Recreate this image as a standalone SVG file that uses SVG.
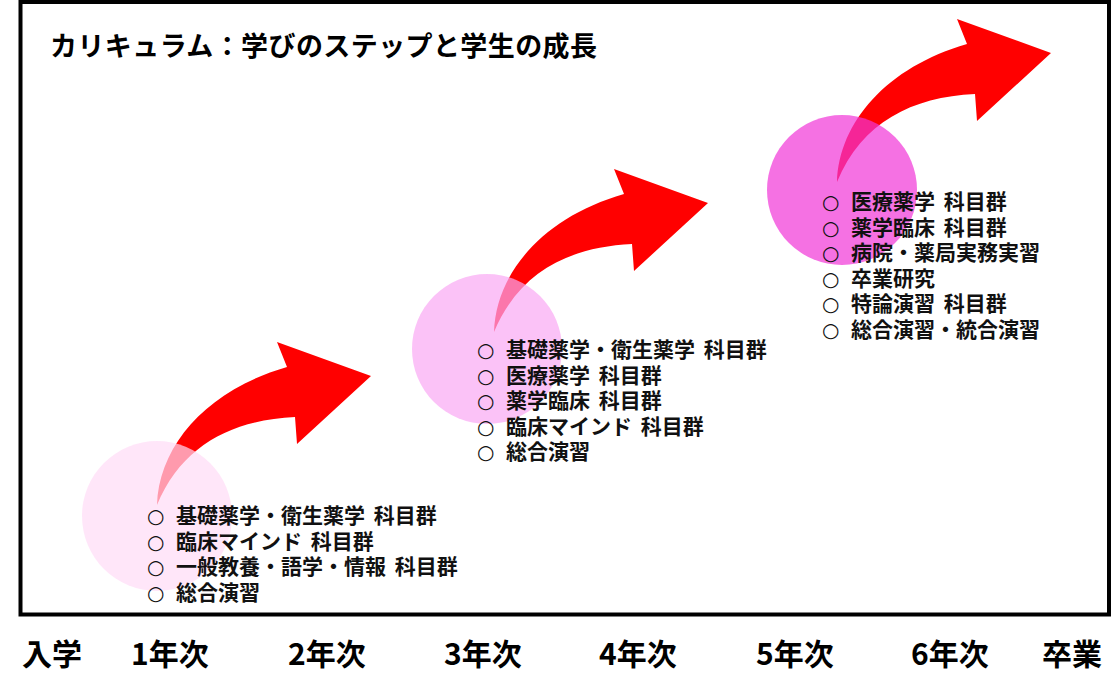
<svg xmlns="http://www.w3.org/2000/svg" xmlns:xlink="http://www.w3.org/1999/xlink" width="1120" height="692" viewBox="0 0 1120 692">
<style>
  .title { font-family: "Noto Sans CJK JP", "Noto Sans", sans-serif; font-weight: bold; font-size: 27px; fill: #000; }
  .item { font-family: "Liberation Sans", "Noto Sans CJK JP", sans-serif; font-weight: bold; font-size: 21px; fill: #111; word-spacing: 3px; }
  .mark { font-family: "DejaVu Sans", "Noto Sans CJK JP", sans-serif; font-weight: normal; font-size: 20px; }
  .year { font-family: "Noto Sans CJK JP", "Noto Sans", sans-serif; font-weight: bold; font-size: 30px; fill: #000; }
  .arrow { fill: #ff0000; }
</style>
<defs>
  <path id="curvedArrow" d="M0,0 C2,-60 50,-115 130,-138 L120,-163 L214,-129 L140,-61 L138,-88 C75,-85 25,-60 0,0 Z"/>
</defs>
<rect x="0" y="0" width="1120" height="692" fill="#ffffff"/>
<rect id="frame" x="20.5" y="2" width="1088.5" height="612.5" fill="#ffffff" stroke="#000" stroke-width="4"/>
<text id="title" class="title" x="50" y="56" textLength="547">カリキュラム：学びのステップと学生の成長</text>

<g id="connectors">
  <use xlink:href="#curvedArrow" class="arrow" transform="translate(157,505)"/>
  <use xlink:href="#curvedArrow" class="arrow" transform="translate(494,332)"/>
  <use xlink:href="#curvedArrow" class="arrow" transform="translate(837,182)"/>
</g>

<g id="stage1">
  <circle cx="157" cy="516" r="75" fill="rgb(255,220,246)" fill-opacity="0.7"/>
  <text class="item" y="523"><tspan class="mark" x="147">○</tspan><tspan x="176">基礎薬学・衛生薬学 科目群</tspan></text>
  <text class="item" y="548.5"><tspan class="mark" x="147">○</tspan><tspan x="176">臨床マインド 科目群</tspan></text>
  <text class="item" y="574"><tspan class="mark" x="147">○</tspan><tspan x="176">一般教養・語学・情報 科目群</tspan></text>
  <text class="item" y="599.5"><tspan class="mark" x="147">○</tspan><tspan x="176">総合演習</tspan></text>
</g>

<g id="stage2">
  <circle cx="487" cy="349" r="75" fill="rgb(250,168,243)" fill-opacity="0.7"/>
  <text class="item" y="357"><tspan class="mark" x="477">○</tspan><tspan x="506">基礎薬学・衛生薬学 科目群</tspan></text>
  <text class="item" y="382.5"><tspan class="mark" x="477">○</tspan><tspan x="506">医療薬学 科目群</tspan></text>
  <text class="item" y="408"><tspan class="mark" x="477">○</tspan><tspan x="506">薬学臨床 科目群</tspan></text>
  <text class="item" y="433.5"><tspan class="mark" x="477">○</tspan><tspan x="506">臨床マインド 科目群</tspan></text>
  <text class="item" y="459"><tspan class="mark" x="477">○</tspan><tspan x="506">総合演習</tspan></text>
</g>

<g id="stage3">
  <circle cx="842" cy="190" r="75" fill="rgb(241,52,215)" fill-opacity="0.7"/>
  <text class="item" y="209"><tspan class="mark" x="822">○</tspan><tspan x="851">医療薬学 科目群</tspan></text>
  <text class="item" y="234.5"><tspan class="mark" x="822">○</tspan><tspan x="851">薬学臨床 科目群</tspan></text>
  <text class="item" y="260"><tspan class="mark" x="822">○</tspan><tspan x="851">病院・薬局実務実習</tspan></text>
  <text class="item" y="285.5"><tspan class="mark" x="822">○</tspan><tspan x="851">卒業研究</tspan></text>
  <text class="item" y="311"><tspan class="mark" x="822">○</tspan><tspan x="851">特論演習 科目群</tspan></text>
  <text class="item" y="336.5"><tspan class="mark" x="822">○</tspan><tspan x="851">総合演習・統合演習</tspan></text>
</g>

<g id="timeline">
  <text class="year" x="22" y="665">入学</text>
  <text class="year" x="131" y="665">1年次</text>
  <text class="year" x="288" y="665">2年次</text>
  <text class="year" x="444" y="665">3年次</text>
  <text class="year" x="599" y="665">4年次</text>
  <text class="year" x="756" y="665">5年次</text>
  <text class="year" x="911" y="665">6年次</text>
  <text class="year" x="1042" y="665">卒業</text>
</g>
</svg>
